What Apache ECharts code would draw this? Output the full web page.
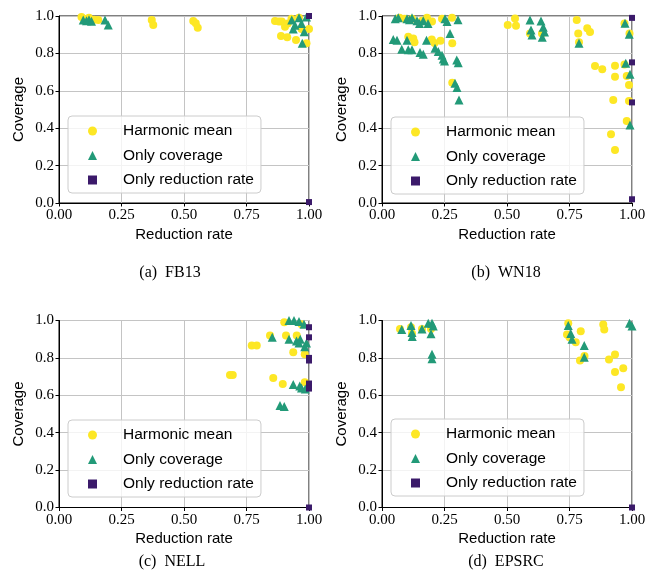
<!DOCTYPE html>
<html>
<head>
<meta charset="utf-8">
<script src="https://cdn.jsdelivr.net/npm/echarts@6/dist/echarts.min.js"></script>
<style>
  html, body { margin: 0; padding: 0; background: #fff; }
  #main { width: 649px; height: 584px; }
</style>
</head>
<body>
<div id="main"></div>
<script>
// series names and tick values
var seriesNames = ['Harmonic mean', 'Only coverage', 'Only reduction rate'];
var xTicks = [0, 0.25, 0.5, 0.75, 1];
var yTicks = [0, 0.2, 0.4, 0.6, 0.8, 1];
var captions = ['(a)  FB13', '(b)  WN18', '(c)  NELL', '(d)  EPSRC'];

// (a) FB13  [reduction rate, coverage]
var fb13Harmonic = [[0.09,0.995],[0.10,0.985],[0.12,0.99],[0.14,0.98],[0.157,0.979],[0.371,0.979],[0.377,0.952],
  [0.537,0.973],[0.547,0.961],[0.555,0.937],[0.864,0.973],[0.88,0.97],[0.891,0.97],[0.904,0.943],[0.915,0.96],
  [0.888,0.893],[0.913,0.886],[0.948,0.872],[0.99,0.854],[0.97,0.93],[1.0,0.93],[0.93,0.985],[0.96,0.99]];
var fb13Coverage = [[0.097,0.979],[0.11,0.975],[0.12,0.98],[0.13,0.972],[0.184,0.979],[0.197,0.952],[0.931,0.979],
  [0.944,0.95],[0.937,0.93],[0.97,0.96],[0.981,0.916],[0.973,0.854],[0.99,0.995],[0.96,0.99]];
var fb13Reduction = [[1.0,0.005],[1.0,1.0]];

// (b) WN18
var wn18Harmonic = [[0.07,0.99],[0.09,0.985],[0.12,0.985],[0.16,0.975],[0.18,0.99],[0.2,0.97],[0.28,0.99],[0.24,0.985],
  [0.105,0.889],[0.125,0.88],[0.13,0.86],[0.199,0.875],[0.21,0.855],[0.234,0.868],[0.281,0.854],[0.503,0.952],
  [0.532,0.987],[0.536,0.948],[0.592,0.907],[0.64,0.907],[0.281,0.643],[0.779,0.979],[0.785,0.907],[0.788,0.86],
  [0.821,0.934],[0.832,0.915],[0.852,0.733],[0.881,0.715],[0.932,0.734],[0.932,0.675],[0.925,0.551],[0.916,0.367],
  [0.932,0.283],[0.979,0.679],[0.988,0.631],[0.988,0.545],[0.979,0.438],[0.97,0.74],[0.97,0.96],[0.99,0.907]];
var wn18Coverage = [[0.053,0.985],[0.065,0.99],[0.1,0.985],[0.11,0.98],[0.12,0.99],[0.14,0.975],[0.15,0.96],[0.165,0.975],
  [0.184,0.96],[0.252,0.985],[0.26,0.97],[0.304,0.98],[0.272,0.907],[0.045,0.875],[0.06,0.87],[0.079,0.822],[0.1,0.87],
  [0.105,0.82],[0.12,0.82],[0.152,0.805],[0.165,0.795],[0.178,0.87],[0.212,0.827],[0.225,0.81],[0.24,0.79],[0.245,0.77],
  [0.25,0.76],[0.299,0.765],[0.305,0.75],[0.292,0.64],[0.30,0.617],[0.308,0.551],[0.592,0.979],[0.596,0.925],[0.6,0.898],
  [0.636,0.973],[0.645,0.94],[0.65,0.914],[0.641,0.886],[0.788,0.854],[0.972,0.961],[0.989,0.902],[0.975,0.747],
  [0.992,0.688],[0.992,0.417]];
var wn18Reduction = [[1.0,0.99],[1.0,0.752],[1.0,0.538],[1.0,0.02]];

// (c) NELL
var nellHarmonic = [[0.901,0.991],[0.844,0.92],[0.908,0.92],[0.951,0.92],[0.771,0.866],[0.791,0.866],[0.937,0.83],
  [0.983,0.82],[0.684,0.709],[0.695,0.709],[0.857,0.692],[0.895,0.661],[0.983,0.67],[0.97,0.98]];
var nellCoverage = [[0.92,1.0],[0.94,1.0],[0.96,0.995],[0.98,0.98],[0.853,0.911],[0.92,0.9],[0.95,0.89],[0.965,0.9],
  [0.96,0.88],[0.983,0.86],[0.99,0.88],[0.937,0.658],[0.963,0.65],[0.97,0.639],[0.985,0.634],[0.884,0.545],[0.901,0.54]];
var nellReduction = [[1.0,0.964],[1.0,0.91],[1.0,0.80],[1.0,0.786],[1.0,0.663],[1.0,0.636],[1.0,0.0]];

// (d) EPSRC
var epsrcHarmonic = [[0.072,0.955],[0.116,0.964],[0.12,0.93],[0.16,0.955],[0.196,0.955],[0.745,0.985],[0.74,0.925],
  [0.75,0.91],[0.775,0.884],[0.795,0.943],[0.792,0.786],[0.81,0.81],[0.885,0.979],[0.889,0.952],[0.908,0.791],
  [0.932,0.818],[0.932,0.724],[0.965,0.745],[0.956,0.643]];
var epsrcCoverage = [[0.079,0.952],[0.116,0.973],[0.12,0.936],[0.121,0.914],[0.16,0.955],[0.185,0.985],[0.2,0.985],
  [0.205,0.97],[0.196,0.929],[0.2,0.82],[0.2,0.795],[0.745,0.973],[0.755,0.93],[0.76,0.9],[0.809,0.866],[0.809,0.804],
  [0.99,0.985],[1.0,0.97]];
var epsrcReduction = [[1.0,0.0]];

var panels = [
  [fb13Harmonic, fb13Coverage, fb13Reduction],
  [wn18Harmonic, wn18Coverage, wn18Reduction],
  [nellHarmonic, nellCoverage, nellReduction],
  [epsrcHarmonic, epsrcCoverage, epsrcReduction]
];

var colors = ['#fde725', '#229a78', '#3b1a6a'];
var symbols = ['circle', 'triangle', 'rect'];
var sizes = [8, 9, 6];

var serif = 'Liberation Serif';
var sans = 'Liberation Sans';

// panel boxes: left, top
var gridPos = [[59, 16], [382, 16], [59, 320.5], [382, 320.5]];
var legendPos = [[68, 116], [391, 117], [68, 420], [391, 419]];
var captionPos = [[170, 272], [506, 272], [172, 561], [506, 561]];

var grids = [], xAxes = [], yAxes = [], series = [], legends = [], texts = [];

gridPos.forEach(function (p, i) {
  grids.push({ left: p[0], top: p[1], width: 250, height: 187, show: true,
    borderColor: '#000', borderWidth: 1, backgroundColor: 'transparent' });

  xAxes.push({
    gridIndex: i, type: 'value', min: xTicks[0], max: xTicks[xTicks.length - 1], interval: 0.25,
    name: 'Reduction rate', nameLocation: 'middle', nameGap: 24,
    nameTextStyle: { fontFamily: sans, fontSize: 15, color: '#000' },
    axisLine: { show: true, lineStyle: { color: '#000', width: 1 } },
    axisTick: { show: true, length: 3.5, lineStyle: { color: '#000' } },
    axisLabel: { fontFamily: serif, fontSize: 15, color: '#000', margin: 5,
      formatter: function (v) { return v.toFixed(2); } },
    splitLine: { show: true, lineStyle: { color: '#c4c4c4', width: 1 } }
  });

  yAxes.push({
    gridIndex: i, type: 'value', min: yTicks[0], max: yTicks[yTicks.length - 1], interval: 0.2,
    name: 'Coverage', nameLocation: 'middle', nameGap: 33, nameRotate: 90,
    nameTextStyle: { fontFamily: sans, fontSize: 15, color: '#000' },
    axisLine: { show: true, lineStyle: { color: '#000', width: 1 } },
    axisTick: { show: true, length: 3.5, lineStyle: { color: '#000' } },
    axisLabel: { fontFamily: serif, fontSize: 15, color: '#000', margin: 5,
      formatter: function (v) { return v.toFixed(1); } },
    splitLine: { show: true, lineStyle: { color: '#c4c4c4', width: 1 } }
  });

  panels[i].forEach(function (d, k) {
    series.push({
      name: seriesNames[k], type: 'scatter', xAxisIndex: i, yAxisIndex: i,
      data: d, symbol: symbols[k], symbolSize: sizes[k], clip: true,
      itemStyle: { color: colors[k], opacity: 1 }, z: 2 + k
    });
  });

  legends.push({
    left: legendPos[i][0], top: legendPos[i][1], orient: 'vertical',
    data: seriesNames.map(function (n, k) { return { name: n, icon: symbols[k] }; }),
    selectedMode: false, itemWidth: 9, itemHeight: 9, itemGap: 8.5, itemTextGap: 5,
    padding: [7, 7, 5, 20],
    backgroundColor: 'rgba(255,255,255,0.8)', borderColor: '#cccccc', borderWidth: 1, borderRadius: 4,
    textStyle: { fontFamily: sans, fontSize: 15.5, color: '#000', lineHeight: 16, padding: [0, 0, 0, 21] }
  });

  texts.push({
    type: 'text', x: captionPos[i][0], y: captionPos[i][1] + 1,
    style: { text: captions[i], font: '16px "' + serif + '"', fill: '#000',
      align: 'center', verticalAlign: 'middle', textAlign: 'center', textVerticalAlign: 'middle' }
  });
});

var chart = echarts.init(document.getElementById('main'), null, { renderer: 'canvas' });
chart.setOption({
  animation: false,
  backgroundColor: '#fff',
  grid: grids,
  xAxis: xAxes,
  yAxis: yAxes,
  legend: legends,
  series: series,
  graphic: texts
});
</script>
</body>
</html>
